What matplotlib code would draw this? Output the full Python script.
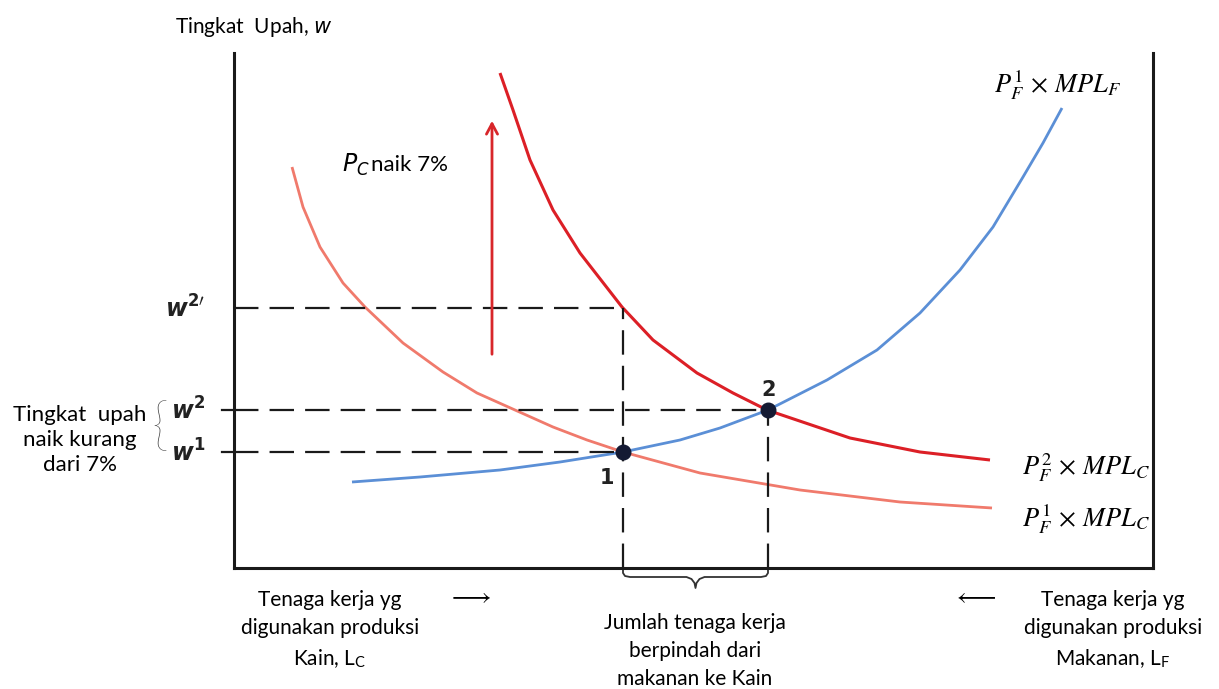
import numpy as np
import matplotlib.pyplot as plt

plt.rcParams['font.family'] = ['Lato', 'DejaVu Sans']
plt.rcParams['mathtext.fontset'] = 'stix'

# curves (labour on x, wage on y)
blue_x = [118, 186, 266, 326, 389, 446, 486, 534, 593, 643, 686, 726, 759, 789, 809, 828]
blue_y = [86, 91, 98, 106, 116, 128, 140, 158, 188, 218, 255, 298, 341, 391, 425, 460]

red1_x = [58, 69, 86, 109, 131, 169, 209, 243, 281, 319, 353, 389, 466, 566, 666, 758]
red1_y = [401, 361, 321, 285, 261, 225, 196, 175, 158, 141, 128, 116, 95, 78, 66, 60]

red2_x = [266, 279, 296, 319, 346, 388, 419, 463, 499, 533, 616, 686, 756]
red2_y = [495, 458, 408, 358, 315, 261, 228, 195, 175, 158, 130, 116, 108]

w_levels = {'w1': 116, 'w2': 158, 'w2p': 260}
L1, L2 = 389, 534
arrow_x, arrow_y0, arrow_y1 = 258, 211, 450

fig = plt.figure(figsize=(12.19, 6.89), dpi=100)
ax = fig.add_axes([234 / 1219, 1 - 568 / 689, (1153 - 234) / 1219, (568 - 53) / 689])
ax.set_xlim(0, 919)
ax.set_ylim(0, 515)
ax.set_xticks([])
ax.set_yticks([])
ax.spines['top'].set_visible(False)
for s in ['left', 'right', 'bottom']:
    ax.spines[s].set_linewidth(2.2)
    ax.spines[s].set_color('#1a1a1a')

ax.plot(red1_x, red1_y, color='#f07a6c', lw=2, solid_capstyle='butt')
ax.plot(red2_x, red2_y, color='#dc1f26', lw=2.2, solid_capstyle='butt')
ax.plot(blue_x, blue_y, color='#5b8fd6', lw=2, solid_capstyle='butt')

dash = dict(color='#1a1a1a', lw=1.6, dashes=(11, 5))
ax.plot([0, L1], [w_levels['w2p']] * 2, **dash)
ax.plot([0, L2], [w_levels['w2']] * 2, **dash)
ax.plot([0, L1], [w_levels['w1']] * 2, **dash)
ax.plot([L1, L1], [0, w_levels['w2p']], **dash)
ax.plot([L2, L2], [0, w_levels['w2']], **dash)

ax.scatter([L1, L2], [w_levels['w1'], w_levels['w2']], s=110, color='#141a33', zorder=5)
ax.text(L1 - 16, w_levels['w1'] - 26, '1', fontsize=15, fontweight='bold',
        family='DejaVu Sans', ha='center', va='center', color='#222')
ax.text(L2 + 1, w_levels['w2'] + 20, '2', fontsize=15, fontweight='bold',
        family='DejaVu Sans', ha='center', va='center', color='#222')

ax.annotate('', xy=(arrow_x, arrow_y1), xytext=(arrow_x, arrow_y0),
            arrowprops=dict(arrowstyle='->,head_length=0.75,head_width=0.4',
                            color='#d8262a', lw=2))

ax.text(108, 403, r'$P_C$', fontsize=17, ha='left', va='center',
        math_fontfamily='dejavusans')
ax.text(137, 403, 'naik 7%', fontsize=16, ha='left', va='center')

# curve labels
ax.text(824, 483, r'$P_F^1\,\times\,MPL_F$', fontsize=19, ha='center', va='center')
ax.text(852, 100, r'$P_F^2\,\times\,MPL_C$', fontsize=19, ha='center', va='center')
ax.text(852, 49, r'$P_F^1\,\times\,MPL_C$', fontsize=19, ha='center', va='center')

# wage ticks and labels
for key, lab in [('w2p', r"$\boldsymbol{w}^{\mathbf{2}\prime}$"), ('w2', r'$\boldsymbol{w}^{\mathbf{2}}$'),
                 ('w1', r'$\boldsymbol{w}^{\mathbf{1}}$')]:
    ax.text(-29, w_levels[key], lab, fontsize=17, ha='right', va='center',
            math_fontfamily='dejavusans', color='#222')
for key in ['w2', 'w1']:
    ax.plot([-12, 0], [w_levels[key]] * 2, color='#1a1a1a', lw=1.6, clip_on=False)

fig.text(175 / 1219, 1 - 27 / 689, 'Tingkat  Upah, $w$', fontsize=15, ha='left', va='center',
         math_fontfamily='dejavusans')

fig.text(80 / 1219, 1 - 440 / 689, 'Tingkat  upah\nnaik kurang\ndari 7%', fontsize=16,
         ha='center', va='center', linespacing=1.3)
fig.text(160 / 1219, 1 - 428 / 689, '{', fontsize=42, ha='center', va='center',
         fontweight='light', color='#333')

# bottom brace
mid = (L1 + L2) / 2
brace_x = [L1, L1, L1 + 2, L1 + 7, mid - 9, mid - 4, mid - 1, mid, mid + 1, mid + 4, mid + 9,
           L2 - 7, L2 - 2, L2, L2]
brace_y = [-1, -5, -8, -9, -9, -11, -15, -20, -15, -11, -9, -9, -8, -5, -1]
ax.plot(brace_x, brace_y, color='#333', lw=1.3, clip_on=False)

fig.text(330 / 1219, 1 - 630 / 689, 'Tenaga kerja yg\ndigunakan produksi\nKain, L$_\\mathregular{C}$',
         fontsize=15, ha='center', va='center', linespacing=1.5)
fig.text(470 / 1219, 1 - 596 / 689, r'$\longrightarrow$', fontsize=18, ha='center', va='center')
fig.text(975 / 1219, 1 - 596 / 689, r'$\longleftarrow$', fontsize=18, ha='center', va='center')
fig.text(695 / 1219, 1 - 651 / 689, 'Jumlah tenaga kerja\nberpindah dari\nmakanan ke Kain',
         fontsize=15, ha='center', va='center', linespacing=1.5)
fig.text(1113 / 1219, 1 - 630 / 689, 'Tenaga kerja yg\ndigunakan produksi\nMakanan, L$_\\mathregular{F}$',
         fontsize=15, ha='center', va='center', linespacing=1.5)

fig.savefig('out.png', dpi=100)
